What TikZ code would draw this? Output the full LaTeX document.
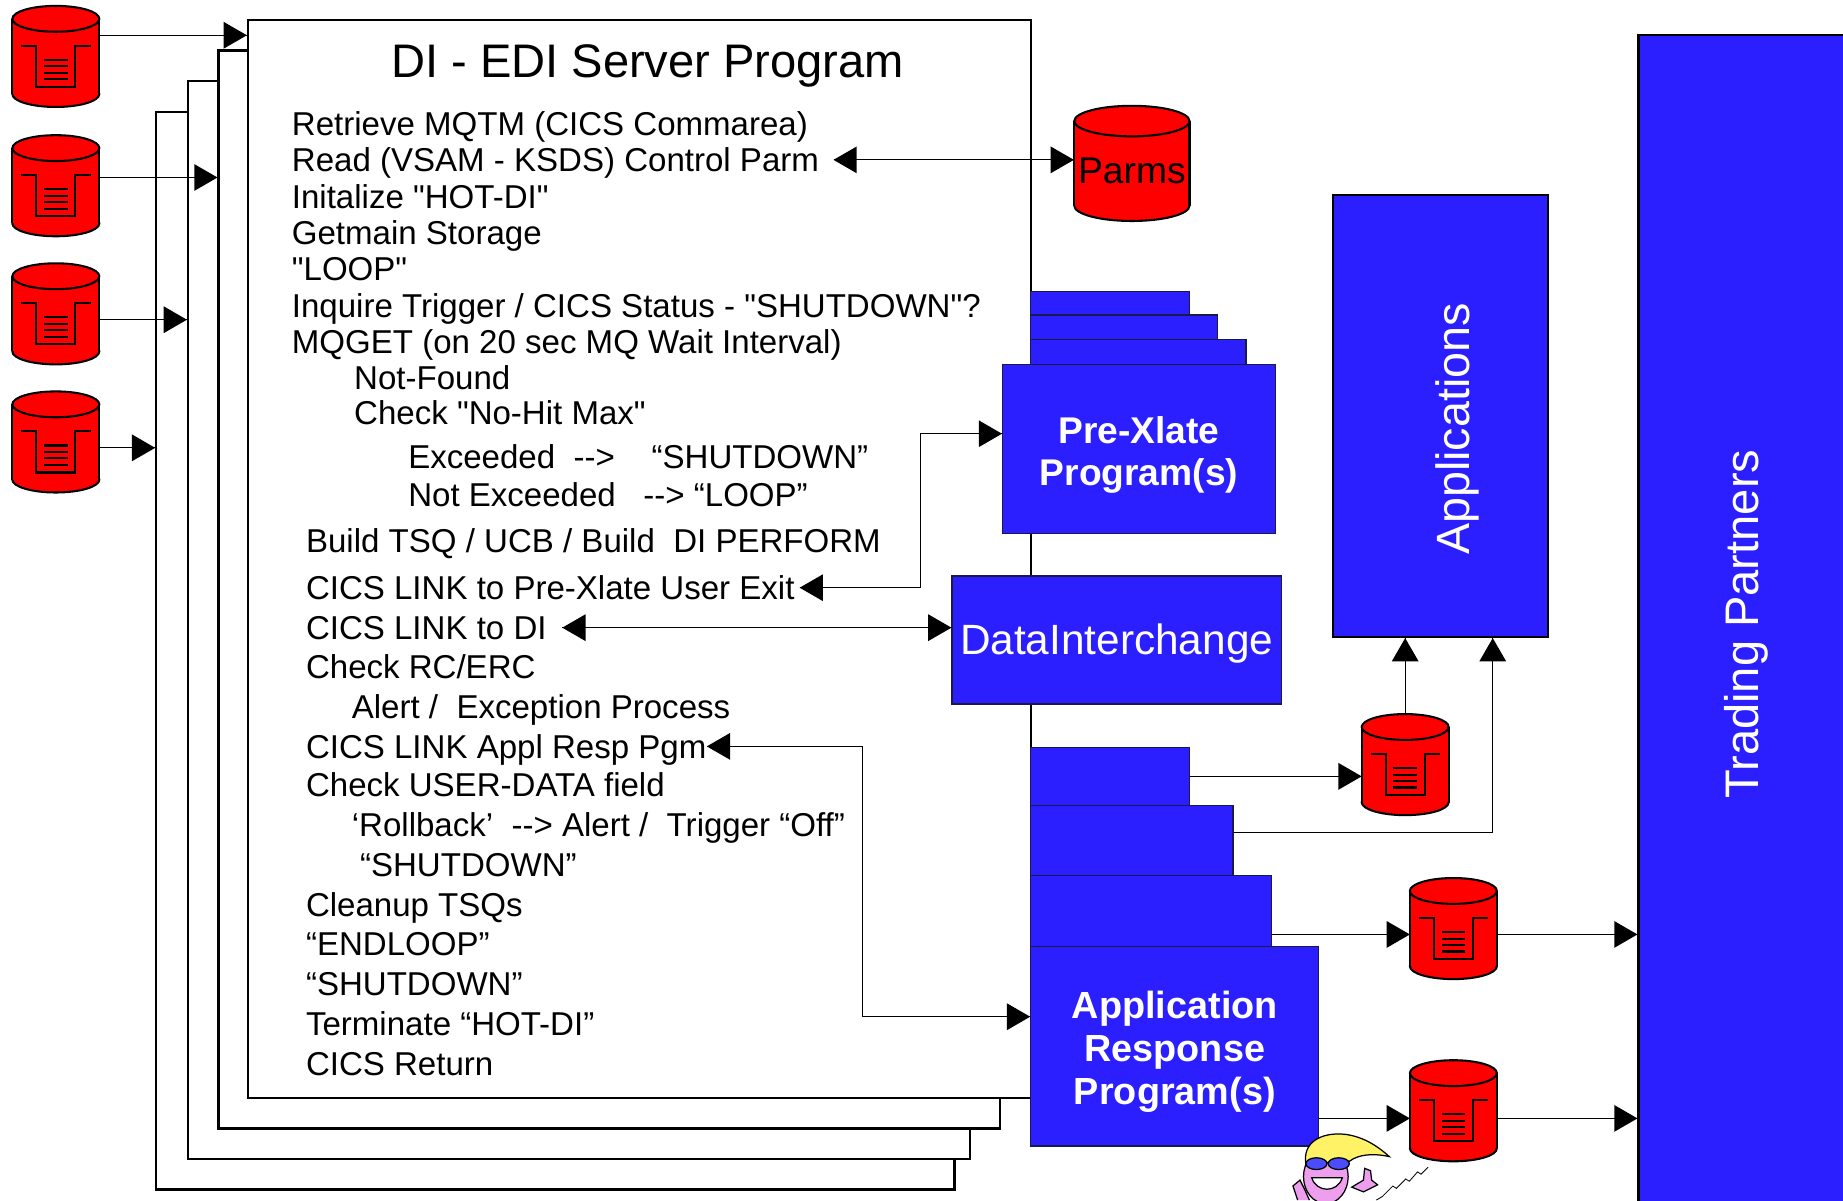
\documentclass[tikz,border=0pt]{standalone}
\usepackage{fontspec}
\setmainfont{Liberation Sans}
\usetikzlibrary{arrows}
\usetikzlibrary{decorations.markings}
\usetikzlibrary{fit}
\tikzset{->/.style = {decoration={markings,
                                  mark=at position 1 with {\arrow[scale=2]{triangle 60}}},
                      postaction={decorate}}}
\tikzset{<->/.style = {decoration={markings,
                                   mark=at position 0 with {\arrowreversed[scale=2]{triangle 60}},
                                   mark=at position 1 with {\arrow[scale=2]{triangle 60}}},
                       postaction={decorate}}}
\definecolor{mblue}{rgb}{0.17, 0.12, 1.0}
\definecolor{mnavy}{rgb}{0.1, 0.1, 0.3}
\definecolor{mred}{rgb}{1.0, 0.0, 0.0}
\definecolor{hair}{rgb}{1.0, 0.95, 0.4}
\definecolor{skin}{rgb}{0.93, 0.62, 0.93}
\newcommand{\dq}{\XeTeXglyph\XeTeXglyphindex "quotedbl"\relax}
\tikzset{page/.style = {draw, fill = white, line width = 1.1pt, inner sep = 0}}
\tikzset{prog/.style = {draw = mnavy, fill = mblue, line width = 0.6pt, inner sep = 0}}
\tikzset{sys/.style = {draw, fill = mblue, line width = 1pt, inner sep = 0}}
\tikzset{boxtext/.style = {inner sep = 0, text = white, align = center}}
\tikzset{txt/.style = {anchor = base west, inner sep = 0, text height = 4mm, text depth = 0mm,
                       font = \fontsize{16}{19}\selectfont}}
\tikzset{drum/.style = {draw = black, fill = mred, line width = 1pt}}
\tikzset{drumside/.style = {draw = black, line width = 1pt}}
\tikzset{drumbox/.style = {inner sep = 0, outer sep = 0, minimum width = 14.8mm, minimum height = 17.2mm}}
\tikzset{tray/.style = {line width = 1pt}}
\tikzset{conn/.style = {line width = 0.5pt}}

\newcommand{\drumbody}[4]{% centre, half width, half height, end radius
  \begin{scope}[shift = {(#1)}]
    \filldraw[drum] (0,#3-#4) ellipse [x radius = #2, y radius = #4];
    \fill[mred] (-#2,-#3+#4) rectangle (#2,#3-#4);
    \draw[drumside] (-#2,-#3+#4) -- (-#2,#3-#4) (#2,-#3+#4) -- (#2,#3-#4);
    \filldraw[drum] (0,-#3+#4) ellipse [x radius = #2, y radius = #4];
  \end{scope}}
\newcommand{\mqueue}[2]{% name, centre
  \drumbody{#2}{37}{43}{11}
  \begin{scope}[shift = {(#2)}]
    \draw[tray] (-29.5,-9) -- (-16.5,-9) -- (-16.5,26) -- (16.5,26) -- (16.5,-9) -- (29.5,-9);
    \foreach \y in {3, 8.5, 14, 19.5}
      \draw[tray] (-10,\y) -- (10,\y);
  \end{scope}
  \node[drumbox] (#1) at (#2) {};}

\begin{document}
\begin{tikzpicture}[x = 0.2mm, y = -0.2mm]
    \useasboundingbox (0,0) rectangle (1568,1021);
    \clip (0,0) rectangle (1568,1021);

    \node[page, fit = {(133,95) (812,1012)}] (page4) {};
    \node[page, fit = {(160,69) (825,986)}] (page3) {};
    \node[page, fit = {(186,43) (851,960)}] (page2) {};
    \node[page, fit = {(211,17) (877,934)}] (page1) {};

    \node[anchor = base, inner sep = 0, font = \fontsize{22.8}{26}\selectfont] (title) at (551,66) {DI - EDI Server Program};

    \node[txt] (retrieve) at (248,115) {Retrieve MQTM (CICS Commarea)};
    \node[txt] (readparm) at (248,146) {Read (VSAM - KSDS) Control Parm};
    \node[txt] (init) at (248,177) {Initalize \dq HOT-DI\dq};
    \node[txt] (getmain) at (248,208) {Getmain Storage};
    \node[txt] (loop) at (248,239) {\dq LOOP\dq};
    \node[txt] (inquire) at (248,270) {Inquire Trigger / CICS Status - \dq SHUTDOWN\dq?};
    \node[txt] (mqget) at (248,301) {MQGET (on 20 sec MQ Wait Interval)};
    \node[txt] (notfound) at (301,331) {Not-Found};
    \node[txt] (nohit) at (301,361) {Check \dq No-Hit Max\dq};
    \node[txt] (exceeded) at (347,399) {Exceeded~~-{}->~~~~“SHUTDOWN”};
    \node[txt] (notexceeded) at (347,431) {Not Exceeded~~~-{}-> “LOOP”};
    \node[txt] (buildtsq) at (260,470) {Build TSQ / UCB / Build~~DI PERFORM};
    \node[txt] (linkpre) at (260,510) {CICS LINK to Pre-Xlate User Exit};
    \node[txt] (linkdi) at (260,544) {CICS LINK to DI};
    \node[txt] (checkrc) at (260,577) {Check RC/ERC};
    \node[txt] (alert) at (299,611) {Alert /~~Exception Process};
    \node[txt] (linkresp) at (260,645) {CICS LINK Appl Resp Pgm};
    \node[txt] (checkuser) at (260,678) {Check USER-DATA field};
    \node[txt] (rollback) at (299,712) {‘Rollback’~~-{}-> Alert /~~Trigger “Off”};
    \node[txt] (shutone) at (306,746) {“SHUTDOWN”};
    \node[txt] (cleanup) at (260,780) {Cleanup TSQs};
    \node[txt] (endloop) at (260,813) {“ENDLOOP”};
    \node[txt] (shuttwo) at (260,847) {“SHUTDOWN”};
    \node[txt] (terminate) at (260,881) {Terminate “HOT-DI”};
    \node[txt] (cicsret) at (260,915) {CICS Return};

    \node[prog, fit = {(877,248) (1012,268)}] (pre1) {};
    \node[prog, fit = {(877,268) (1036,289)}] (pre2) {};
    \node[prog, fit = {(877,289) (1060,310)}] (pre3) {};
    \node[prog, fit = {(853,310) (1085,454)}] (pre) {};
    \node[boxtext, font = \fontsize{18}{20.5}\bfseries] (pretext) at ([yshift = -1mm]pre.center) {Pre-Xlate\\Program(s)};

    \node[prog, fit = {(810,490) (1090,599)}] (di) {};
    \node[boxtext, font = \fontsize{20.5}{24}\selectfont] (ditext) at ([yshift = -0.6mm]di.center) {DataInterchange};

    \node[prog, fit = {(877,636) (1012,685)}] (resp1) {};
    \node[prog, fit = {(877,685) (1049,745)}] (resp2) {};
    \node[prog, fit = {(877,745) (1082,805)}] (resp3) {};
    \node[prog, fit = {(877,805) (1122,975)}] (resp) {};
    \node[boxtext, font = \fontsize{18.3}{20.8}\bfseries] (resptext) at ([yshift = -1mm]resp.center) {Application\\Response\\Program(s)};

    \node[sys, fit = {(1134,166) (1317,542)}] (apps) {};
    \node[boxtext, rotate = 90, font = \fontsize{22.6}{26}\selectfont] (appstext) at (1240,365) {Applications};
    \node[sys, fit = {(1394,30) (1590,1040)}] (tp) {};
    \node[boxtext, rotate = 90, font = \fontsize{22.8}{26}\selectfont] (tptext) at (1486,531) {Trading Partners};

    \mqueue{q1}{47.5,48}
    \mqueue{q2}{47.5,158}
    \mqueue{q3}{47.5,267}
    \mqueue{q4}{47.5,376}
    \mqueue{qa}{1195.5,650.5}
    \mqueue{qb}{1236.5,790}
    \mqueue{qc}{1236.5,945}

    \drumbody{963,139}{49}{49}{13}
    \node[inner sep = 0, minimum width = 19.6mm, minimum height = 19.6mm, font = \fontsize{18}{21}\selectfont] (parms) at (963,145) {Parms};

    \draw[->, conn, transform canvas = {yshift = 3.6mm}] (q1.east) -- (q1.east -| page1.west);
    \draw[->, conn, transform canvas = {yshift = 1.4mm}] (q2.east) -- (q2.east -| page2.west);
    \draw[->, conn, transform canvas = {yshift = -1mm}] (q3.east) -- (q3.east -| page3.west);
    \draw[->, conn, transform canvas = {yshift = -1mm}] (q4.east) -- (q4.east -| page4.west);

    \draw[<->, conn] ([xshift = 2.4mm]readparm.east) -- (readparm.east -| parms.west);
    \draw[<->, conn] ([xshift = 0.8mm]linkpre.east) -| ([xshift = -13.8mm, yshift = 2.6mm]pre.west) -- ([yshift = 2.6mm]pre.west);
    \draw[<->, conn] ([xshift = 2.6mm]linkdi.east) -- (linkdi.east -| di.west);
    \draw[<->, conn] (linkresp.east) -| ([xshift = -28.6mm, yshift = 5mm]resp.west) -- ([yshift = 5mm]resp.west);

    \draw[->, conn] (resp1.east) -- (resp1.east -| qa.west);
    \draw[->, conn] (qa.north) -- (qa.north |- apps.south);
    \draw[->, conn] ([yshift = 1.3mm]resp2.east) -| ([xshift = 8.9mm]apps.south);
    \draw[->, conn, transform canvas = {yshift = -1mm}] (resp3.east |- qb.west) -- (qb.west);
    \draw[->, conn, transform canvas = {yshift = -1mm}] (qb.east) -- (qb.east -| tp.west);
    \draw[->, conn, transform canvas = {yshift = -1.3mm}] (resp.east |- qc.west) -- (qc.west);
    \draw[->, conn, transform canvas = {yshift = -1.3mm}] (qc.east) -- (qc.east -| tp.west);

    \begin{scope}[line width = 0.6pt]
      \filldraw[fill = skin] (1104,1021) -- (1100,1009) -- (1106,1004) -- (1110,1012) -- (1114,1021);
      \filldraw[fill = skin] (1150,1010) -- (1160,1004) -- (1161,994) -- (1166,996) -- (1167,1004) -- (1172,1008) -- (1160,1014) -- cycle;
      \filldraw[fill = skin] (1128,1001) ellipse [x radius = 19, y radius = 23];
      \filldraw[fill = hair] (1111,990) .. controls (1108,972) and (1124,963) .. (1144,965)
                             .. controls (1160,967) and (1172,975) .. (1182,984)
                             .. controls (1168,981) and (1156,982) .. (1148,988) -- cycle;
      \filldraw[fill = white] (1116,1002) .. controls (1120,1015) and (1138,1015) .. (1142,1002) -- cycle;
      \filldraw[fill = blue!70] (1120,990) ellipse [x radius = 9, y radius = 5];
      \filldraw[fill = blue!70] (1139,990) ellipse [x radius = 9, y radius = 5];
      \draw[line width = 0.4pt] (1215,993) -- (1209,999) -- (1206,997) -- (1199,1005) -- (1196,1003)
                                 -- (1188,1011) -- (1185,1009) -- (1176,1018) -- (1171,1021);
    \end{scope}
  \end{tikzpicture}
\end{document}
